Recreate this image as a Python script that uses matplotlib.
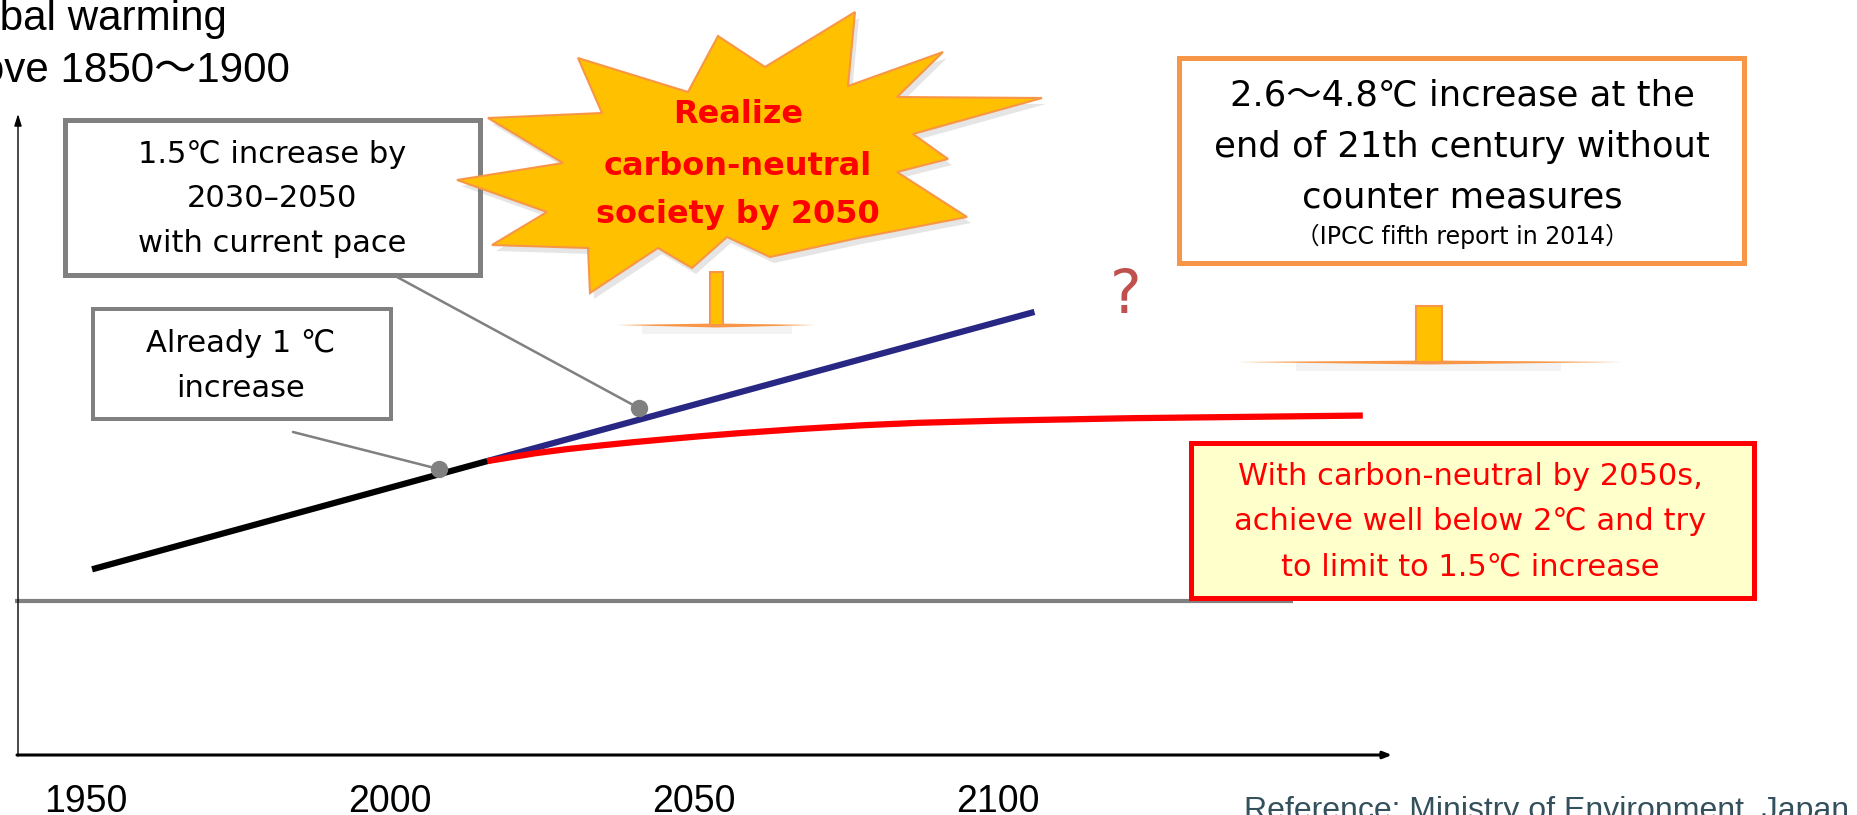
import matplotlib
matplotlib.use('Agg')
import matplotlib.pyplot as plt
import matplotlib.transforms as mtransforms
from matplotlib.patches import Polygon, Rectangle

# temperature rise above 1850-1900 (deg C)
obs_years = [1951, 2016]
obs_temp = [0.24, 1.06]

pace_years = [2016, 2106]
pace_temp = [1.06, 2.19]

cn_years = [2016, 2024, 2029, 2035, 2040, 2046, 2051, 2057, 2067, 2078, 2087, 2100, 2122, 2160]
cn_temp = [1.06, 1.12, 1.15, 1.18, 1.203, 1.228, 1.248, 1.27, 1.302, 1.332, 1.35, 1.366, 1.385, 1.405]

mark_years = [2008, 2041]
mark_temp = [1.00, 1.46]

tick_years = [1950, 2000, 2050, 2100]

W, H = 1858, 815
fig = plt.figure(figsize=(W / 100, H / 100), dpi=100)
ax = fig.add_axes([0, 0, 1, 1])
ax.set_xlim(1950 - 86 / 6.08, 1950 + (W - 86) / 6.08)
ax.set_ylim((601 - H) / 132, 601 / 132)
ax.axis('off')

# pixel coordinates, origin top-left
pix = mtransforms.Affine2D().scale(1 / W, -1 / H).translate(0, 1) + fig.transFigure
xpix = mtransforms.blended_transform_factory(ax.transData, pix)

JP = ['DejaVu Sans', 'Noto Sans CJK JP']
SANS = ['Liberation Sans', 'Noto Sans CJK JP']


def box(x0, y0, x1, y1, lw, ec, fc='white', z=3):
    h = lw / 2
    ax.add_patch(Rectangle((x0 + h, y0 + h), x1 - x0 - lw, y1 - y0 - lw,
                           transform=pix, fc=fc, ec=ec, lw=lw * 0.72, zorder=z))


def lines(x, baselines, texts, **kw):
    for y, s in zip(baselines, texts):
        ax.text(x, y, s, transform=pix, ha='center', va='baseline', zorder=8, **kw)


def stem(x0, x1, top, bottom, lx0, lx1, sx0, sx1):
    xc = (x0 + x1) / 2
    ax.add_patch(Rectangle((sx0, bottom + 1), sx1 - sx0, 8, transform=pix,
                           fc='gray', ec='none', alpha=0.09, zorder=2))
    ax.add_patch(Polygon([(lx0, bottom), (xc, bottom - 1.5), (lx1, bottom), (xc, bottom + 2.5)],
                         transform=pix, fc='#F79646', ec='none', zorder=3))
    ax.add_patch(Rectangle((x0, top), x1 - x0, bottom - top, transform=pix,
                           fc='#FFC000', ec='#F79646', lw=1.5, zorder=4))


# axes with arrow heads
ax.annotate('', xy=(18, 114), xytext=(18, 756), xycoords=pix, textcoords=pix,
            arrowprops=dict(arrowstyle='-|>,head_length=0.7,head_width=0.22',
                            lw=1.0, color='black', shrinkA=0, shrinkB=0))
ax.annotate('', xy=(1392, 755), xytext=(17, 755), xycoords=pix, textcoords=pix,
            arrowprops=dict(arrowstyle='-|>,head_length=0.5,head_width=0.2',
                            lw=2.2, color='black', shrinkA=0, shrinkB=0))

# zero line
ax.hlines(0, 1938.3, 2148.5, colors='#808080', lw=3)

# warming paths
ax.plot(pace_years, pace_temp, color='#282884', lw=4.5, solid_capstyle='butt', zorder=4)
ax.plot(cn_years, cn_temp, color='#FF0000', lw=4.5, solid_capstyle='butt',
        solid_joinstyle='round', zorder=4)
ax.plot(obs_years, obs_temp, color='black', lw=4.5, solid_capstyle='butt', zorder=5)
ax.plot(mark_years, mark_temp, 'o', color='#808080', ms=11.5, zorder=6)

# leader lines from the boxes
leader = dict(arrowstyle='-', color='#808080', lw=1.8, shrinkA=0, shrinkB=0)
ax.annotate('', xy=(mark_years[0], mark_temp[0]), xytext=(293, 432),
            textcoords=pix, arrowprops=leader)
ax.annotate('', xy=(mark_years[1], mark_temp[1]), xytext=(397, 277),
            textcoords=pix, arrowprops=leader)

# title
ax.text(-66, 30, 'Global warming', transform=pix, ha='left', va='baseline',
        fontsize=30.3, family=SANS)
ax.text(-66, 82, 'above 1850～1900', transform=pix, ha='left', va='baseline',
        fontsize=30.3, family=SANS)

# boxes on the left
box(63, 117, 483, 277, 5, '#808080')
lines(272, [163, 207, 252], ['1.5℃ increase by', '2030–2050', 'with current pace'],
      fontsize=22, family=JP)
box(91, 307, 393, 421, 4, '#808080')
lines(241, [352, 397], ['Already 1 ℃', 'increase'], fontsize=22, family=JP)

# starburst
star = [(855, 12), (848, 86), (943, 52), (897, 97), (1042, 98), (913, 134),
        (948, 159), (897, 172), (967, 217), (858, 238), (770, 257), (727, 237),
        (692, 268), (658, 248), (590, 293), (588, 248), (492, 245), (547, 212),
        (457, 180), (563, 163), (488, 118), (602, 113), (578, 58), (688, 92),
        (718, 36), (765, 67)]
ax.add_patch(Polygon([(x + 4, y + 6) for x, y in star], transform=pix,
                     fc='gray', ec='none', alpha=0.2, zorder=6))
ax.add_patch(Polygon(star, transform=pix, fc='#FFC000', ec='#F79646',
                     lw=1.5, zorder=7))
lines(738, [123, 175, 223], ['Realize', 'carbon-neutral', 'society by 2050'],
      fontsize=23, fontweight='bold', color='#FF0000', family=JP)
stem(710, 723, 272, 325, 617, 815, 642, 792)

# right-hand boxes
box(1177, 55, 1747, 265, 5, '#F79646')
lines(1462, [105, 157, 207], ['2.6～4.8℃ increase at the', 'end of 21th century without',
                              'counter measures'], fontsize=25.5, family=JP)
lines(1462, [244], ['（IPCC fifth report in 2014）'], fontsize=17, family=JP)
stem(1416, 1442, 306, 362, 1237, 1622, 1296, 1561)

box(1189, 440, 1757, 600, 5, '#FF0000', fc='#FFFFCC')
lines(1470, [485, 530, 575], ['With carbon-neutral by 2050s,', 'achieve well below 2℃ and try',
                              'to limit to 1.5℃ increase'],
      fontsize=22, color='#FF0000', family=JP)

ax.text(1126, 313, '?', transform=pix, ha='center', va='baseline',
        fontsize=43, color='#C0504D', family=JP)

# year labels and source
for yr in tick_years:
    ax.text(yr, 812, str(yr), transform=xpix, ha='center', va='baseline',
            fontsize=27, family=SANS)
ax.text(1244, 819, 'Reference: Ministry of Environment, Japan', transform=pix,
        ha='left', va='baseline', fontsize=23, color='#34505C', family=SANS)

fig.savefig('out.png', dpi=100)
